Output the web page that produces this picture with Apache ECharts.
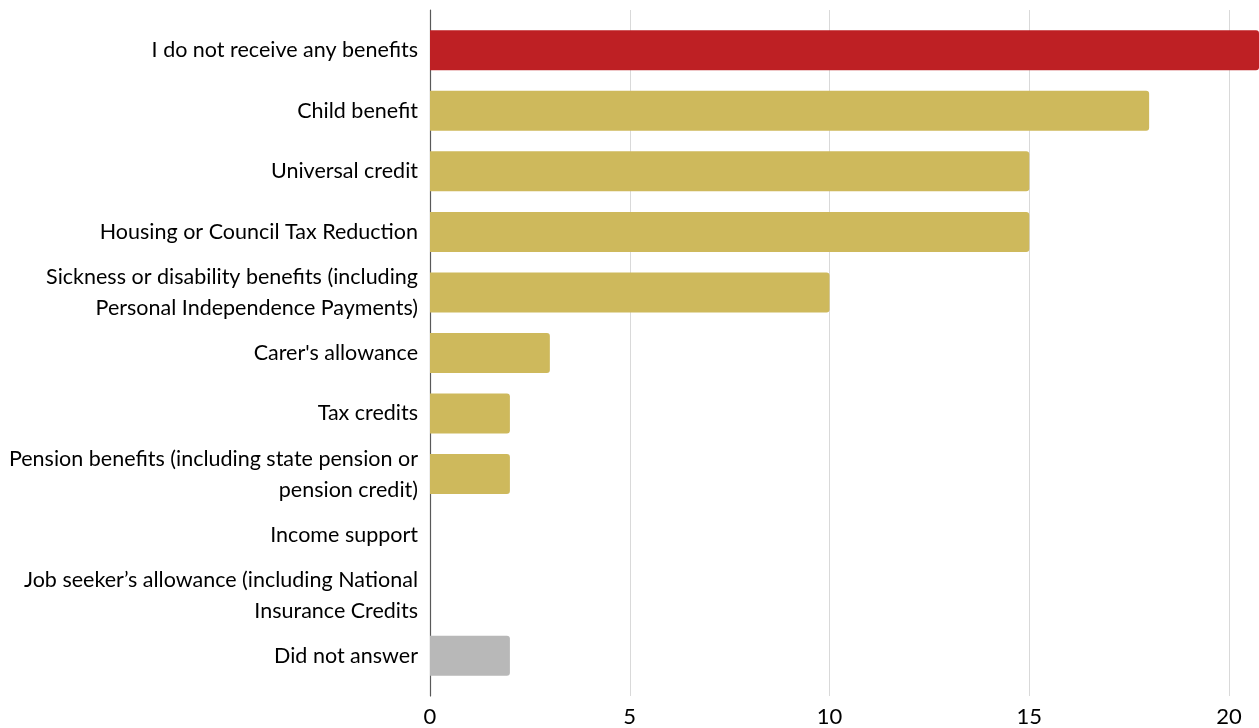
<!DOCTYPE html>
<html>
<head>
<meta charset="utf-8">
<script src="https://cdn.jsdelivr.net/npm/echarts@6/dist/echarts.min.js"></script>
<style>
  html, body { margin: 0; padding: 0; background: #fff; }
  #chart { width: 1259px; height: 728px; }
</style>
</head>
<body>
<div id="chart"></div>
<script>
// Benefits currently received (number of respondents)
const categories = [
  'I do not receive any benefits',
  'Child benefit',
  'Universal credit',
  'Housing or Council Tax Reduction',
  'Sickness or disability benefits (including\nPersonal Independence Payments)',
  "Carer's allowance",
  'Tax credits',
  'Pension benefits (including state pension or\npension credit)',
  'Income support',
  'Job seeker\u2019s allowance (including National\nInsurance Credits',
  'Did not answer'
];
const values = [21, 18, 15, 15, 10, 3, 2, 2, 0, 0, 2];
const xTicks = [0, 5, 10, 15, 20];

const RED = '#BE2024';
const GOLD = '#CEB95C';
const GREY = '#B8B8B8';

function barColor(i) {
  if (i === 0) return RED;
  if (i === categories.length - 1) return GREY;
  return GOLD;
}

const FONT = 'Lato';

const chart = echarts.init(document.getElementById('chart'), null, { renderer: 'canvas' });
chart.setOption({
  animation: false,
  backgroundColor: '#ffffff',
  grid: [
    // bars
    { left: 430, right: 0, top: 20, bottom: 42 },
    // frame: gridlines, value axis labels and the category axis line
    { left: 430, right: 30, top: 10, bottom: 31 }
  ],
  xAxis: [
    {
      gridIndex: 0, type: 'value', min: 0, max: 20.75, show: false
    },
    {
      gridIndex: 1, type: 'value', min: xTicks[0], max: xTicks[xTicks.length - 1], interval: 5,
      axisLine: { show: false },
      axisTick: { show: false },
      splitLine: { show: true, lineStyle: { color: '#D9D9D9', width: 1 } },
      axisLabel: { fontFamily: FONT, fontSize: 22, color: '#000', margin: 10 }
    }
  ],
  yAxis: [
    {
      gridIndex: 0, type: 'category', data: categories, inverse: true,
      axisLine: { show: false },
      axisTick: { show: false },
      axisLabel: {
        fontFamily: FONT, fontSize: 21.5, color: '#000', margin: 12,
        lineHeight: 31, align: 'right'
      }
    },
    {
      gridIndex: 1, type: 'value', min: 0, max: 1,
      axisLine: { show: true, lineStyle: { color: '#595959', width: 1.2 } },
      axisTick: { show: false },
      axisLabel: { show: false },
      splitLine: { show: false }
    }
  ],
  series: [
    {
      type: 'bar',
      xAxisIndex: 0,
      yAxisIndex: 0,
      barWidth: 40,
      clip: true,
      data: values.map((v, i) => ({
        value: v,
        itemStyle: { color: barColor(i), borderRadius: [0, 3, 3, 0] }
      }))
    }
  ]
});
</script>
</body>
</html>
